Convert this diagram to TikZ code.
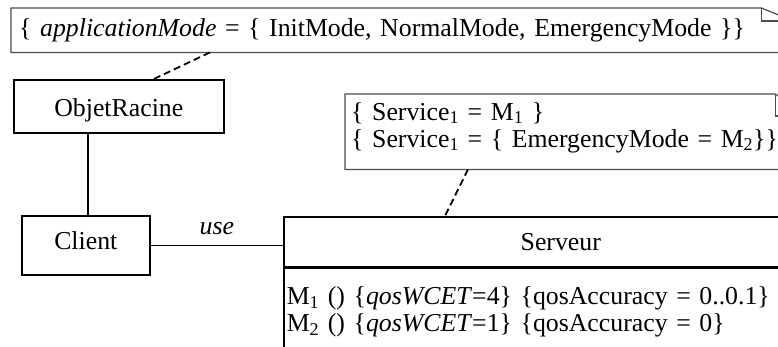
\documentclass[tikz,border=0pt]{standalone}
\usepackage{fontspec}
\setmainfont{Liberation Serif}
\tikzset{
  classbox/.style={draw, line width=1.6pt, inner sep=0pt, anchor=north west},
  notetext/.style={inner ysep=0pt, anchor=north west, align=left},
  noteline/.style={draw=black!70, line width=1.2pt},
  link/.style={line width=1.6pt},
  anchorline/.style={line width=1.8pt, dash pattern=on 7pt off 4pt},
}
\begin{document}
\begin{tikzpicture}[x=1pt,y=-1pt,font=\fontsize{25.8}{27}\selectfont]
	\useasboundingbox (0,0) rectangle (778,346);
	\clip (0,0) rectangle (778,346);
	\node[notetext, inner xsep=8pt, text width=766pt, text height=28pt, text depth=16pt] (modeNote) at (11,8)
		{\{ \textit{applicationMode} = \{ InitMode, NormalMode, EmergencyMode \}\}};
	\draw[noteline] (modeNote.north west) -- ([xshift=-32pt]modeNote.north east) -- ([yshift=-13pt]modeNote.north east)
		-- (modeNote.south east) -- (modeNote.south west) -- cycle;
	\draw[noteline] ([xshift=-32pt]modeNote.north east) |- ([yshift=-13pt]modeNote.north east);
	\node[notetext, inner xsep=6pt, text width=450pt, text height=26pt, text depth=49pt] (servNote) at (345,94)
		{\{ Service\textsubscript{1} = M\textsubscript{1} \}\\
		 \{ Service\textsubscript{1} = \{ EmergencyMode = M\textsubscript{2}\}\}};
	\draw[noteline] (servNote.north west) -- ([xshift=-32pt]servNote.north east) -- ([yshift=-22pt]servNote.north east)
		-- (servNote.south east) -- (servNote.south west) -- cycle;
	\draw[noteline] ([xshift=-32pt]servNote.north east) |- ([yshift=-22pt]servNote.north east);
	\node[classbox, minimum width=210pt, text height=37pt, text depth=16pt] (objetRacine) at (13,79) {ObjetRacine};
	\node[classbox, minimum width=128pt, text height=34pt, text depth=25pt] (client) at (21,215) {Client};
	\node[classbox, minimum width=554pt, text height=34pt, text depth=16pt] (serveur) at (283,216) {Serveur};
	\node[classbox, inner xsep=3pt, text width=548pt, align=left, text height=36pt, text depth=80pt] (methods) at (serveur.south west)
		{M\textsubscript{1} () \{\textit{qosWCET}=4\} \{qosAccuracy = 0..0.1\}\\
		 M\textsubscript{2} () \{\textit{qosWCET}=1\} \{qosAccuracy = 0\}};
	\draw[link] ([xshift=2pt]client.north) -- ([xshift=2pt]client.north |- objetRacine.south);
	\draw[link] (client.east) -- node[above=6pt] {\textit{use}} (client.east -| serveur.west);
	\draw[anchorline] ([xshift=199pt]modeNote.south west) -- ([xshift=35pt]objetRacine.north);
	\draw[anchorline] ([xshift=123pt]servNote.south west) -- ([xshift=162pt]serveur.north west);
\end{tikzpicture}
\end{document}
